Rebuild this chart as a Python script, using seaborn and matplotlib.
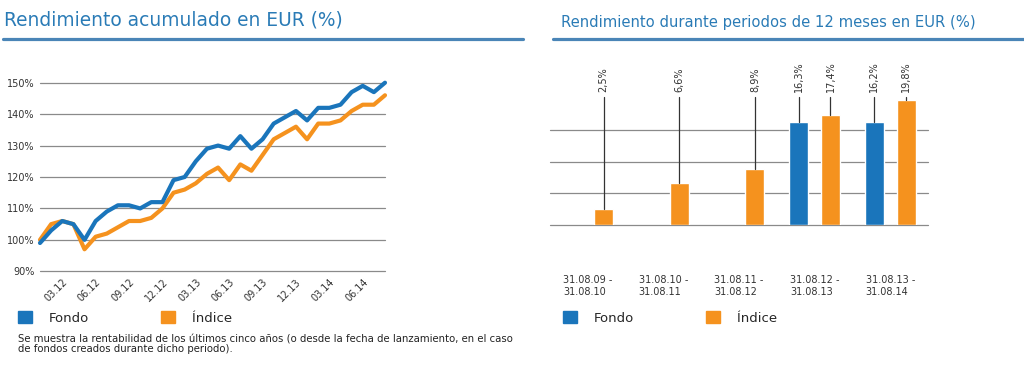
import seaborn as sns
import matplotlib.pyplot as plt
import numpy as np
import pandas as pd
from matplotlib.patches import Patch
from matplotlib.lines import Line2D

# datos
meses = pd.period_range('2012-01', '2014-08', freq='M')
fondo = [99, 103, 106, 105, 100, 106, 109, 111, 111, 110, 112, 112, 119, 120, 125, 129,
         130, 129, 133, 129, 132, 137, 139, 141, 138, 142, 142, 143, 147, 149, 147, 150]
indice = [100, 105, 106, 105, 97, 101, 102, 104, 106, 106, 107, 110, 115, 116, 118, 121,
          123, 119, 124, 122, 127, 132, 134, 136, 132, 137, 137, 138, 141, 143, 143, 146]
yticks_l = [90, 100, 110, 120, 130, 140, 150]

periodos = ['31.08.09 -\n31.08.10', '31.08.10 -\n31.08.11', '31.08.11 -\n31.08.12',
            '31.08.12 -\n31.08.13', '31.08.13 -\n31.08.14']
fondo_12m = [np.nan, np.nan, np.nan, 16.3, 16.2]
indice_12m = [2.5, 6.6, 8.9, 17.4, 19.8]

series = ['Fondo', 'Índice']
colores = {'Fondo': '#1a75bb', 'Índice': '#f5921e'}
azul_titulo = '#2a7bb6'

sns.set_style('white')
plt.rcParams['font.family'] = ['DejaVu Sans']

W, H = 1024, 379
fig = plt.figure(figsize=(W / 100, H / 100), dpi=100)

# grafico de lineas
ax1 = fig.add_axes([40 / W, 1 - 271.3 / H, 345 / W, (271.3 - 82.7) / H])
df = pd.DataFrame({
    'pos': list(range(len(meses))) * 2,
    'valor': fondo + indice,
    'serie': ['Fondo'] * len(fondo) + ['Índice'] * len(indice),
})
sns.lineplot(data=df, x='pos', y='valor', hue='serie', hue_order=series[::-1],
             palette=colores, linewidth=3, ax=ax1, legend=False)
for l in ax1.lines:
    l.set_clip_on(False)
ax1.set_xlim(0, len(meses) - 1)
ax1.set_ylim(90, 150)
ax1.set_yticks(yticks_l)
ax1.set_yticklabels([f'{v}%' for v in yticks_l], fontsize=7, color='#333333')
pos_t = [i for i, m in enumerate(meses) if m.month % 3 == 0]
ax1.set_xticks(pos_t)
ax1.set_xticklabels([meses[i].strftime('%m.%y') for i in pos_t], fontsize=7,
                    rotation=45, ha='right', rotation_mode='anchor', color='#333333')
ax1.tick_params(length=0, pad=4)
ax1.yaxis.grid(True, color='#8a8a8a', lw=0.9)
ax1.set_axisbelow(True)
ax1.set_xlabel('')
ax1.set_ylabel('')
sns.despine(ax=ax1, left=True, bottom=True)

# grafico de barras
ax2 = fig.add_axes([550 / W, 1 - 225 / H, 378 / W, 26 * 6.33 / H])
dfb = pd.DataFrame({
    'periodo': periodos * 2,
    'valor': fondo_12m + indice_12m,
    'serie': ['Fondo'] * 5 + ['Índice'] * 5,
})
sns.barplot(data=dfb, x='periodo', y='valor', hue='serie', order=periodos,
            hue_order=series, palette=colores, width=0.84, gap=0.4, saturation=1,
            errorbar=None, ax=ax2, legend=False)
ax2.set_ylim(0, 26)
ax2.set_xlim(-0.5, 4.5)
ax2.set_yticks([0, 5, 10, 15])
ax2.set_yticklabels([])
ax2.yaxis.grid(True, color='#8a8a8a', lw=0.9)
ax2.set_axisbelow(True)
ax2.tick_params(length=0)
ax2.tick_params(axis='x', pad=36)
for lab in ax2.get_xticklabels():
    lab.set_fontsize(7)
    lab.set_color('#333333')
    lab.set_multialignment('left')
ax2.set_xlabel('')
ax2.set_ylabel('')
sns.despine(ax=ax2, left=True, bottom=True)

for ax in (ax1, ax2):
    for gl in ax.get_ygridlines():
        gl.set_clip_on(False)

for p in ax2.patches:
    h = p.get_height()
    if np.isnan(h) or h == 0:
        continue
    xc = p.get_x() + p.get_width() / 2
    ax2.plot([xc, xc], [h, 20.3], color='#333333', lw=0.9, zorder=1)
    ax2.text(xc, 21.0, f'{h:.1f}'.replace('.', ',') + '%', rotation=90,
             ha='center', va='bottom', fontsize=7, color='#333333', clip_on=False)

# titulos
fig.text(4 / W, 1 - 20 / H, 'Rendimiento acumulado en EUR (%)', fontsize=13.4,
         color=azul_titulo, va='center', ha='left')
fig.text(561 / W, 1 - 23 / H, 'Rendimiento durante periodos de 12 meses en EUR (%)',
         fontsize=10.6, color=azul_titulo, va='center', ha='left')
fig.add_artist(Line2D([3 / W, 523 / W], [1 - 39 / H] * 2, lw=2.3, color='#4a85b7'))
fig.add_artist(Line2D([553 / W, 1.0], [1 - 39 / H] * 2, lw=2.3, color='#4a85b7'))

# leyendas
handles = [Patch(color=colores[s]) for s in series]
for x0 in (18, 563):
    fig.legend(handles, series, loc='upper left', bbox_to_anchor=(x0 / W, 1 - 311 / H),
               ncol=2, frameon=False, fontsize=9.5, handlelength=1.06, handleheight=1.06,
               handletextpad=1.3, columnspacing=5.4, borderpad=0, borderaxespad=0)

fig.text(18 / W, 1 - 334 / H,
         'Se muestra la rentabilidad de los últimos cinco años (o desde la fecha de lanzamiento, en el caso\n'
         'de fondos creados durante dicho periodo).',
         fontsize=7.3, color='#222222', va='top', ha='left', linespacing=0.95)

fig.savefig('out.png', dpi=100)
